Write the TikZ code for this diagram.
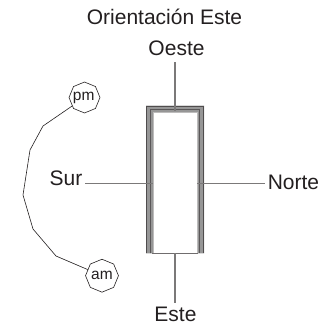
\documentclass[tikz,border=0pt]{standalone}
\usepackage{fontspec}
\setmainfont{Liberation Sans}
\usetikzlibrary{shapes.geometric}
\definecolor{ink}{RGB}{35,31,32}
\definecolor{band}{RGB}{150,150,150}
\tikzset{
  px/.style={x=1pt,y=-1pt},
  lab/.style={font=\fontsize{21}{21}\selectfont,text=ink,inner sep=0pt,anchor=base},
  sun/.style={regular polygon,regular polygon sides=8,shape border rotate=22.5,draw=ink,line width=0.6pt,minimum size=31pt,inner sep=0pt,font=\fontsize{15.5}{15.5}\selectfont,text=ink},
  arm/.style={draw=ink!60,line width=1.1pt},
  pathl/.style={draw=ink,line width=0.6pt}
}
\begin{document}
\begin{tikzpicture}[px]
\useasboundingbox (0,0) rectangle (324,327);
\fill[white] (0,0) rectangle (324,327);
% labels
\node[lab] (title) at (164.5,24) {Orientación Este};
\node[lab] (oeste) at (176.5,55.5) {Oeste};
\node[lab] (este) at (175.5,321.5) {Este};
\node[lab] (sur) at (66,185) {Sur};
\node[lab] (norte) at (293.5,189) {Norte};
% window walls
\fill[band] (146,253.3) -- (146,105.7) -- (204,105.7) -- (204,253.3) -- (197.3,253.3) -- (197.3,112.7) -- (153.3,112.7) -- (153.3,253.3) -- cycle;
\draw[draw=ink!80,line width=1.3pt] (146.7,253.3) -- (146.7,106.4) -- (203.3,106.4) -- (203.3,253.3);
\draw[draw=ink!75,line width=0.9pt] (150.3,253.3) -- (150.3,109.8) -- (199.9,109.8) -- (199.9,253.3);
\draw[draw=ink!30,line width=0.8pt] (153.3,253.3) -- (153.3,112.7) -- (197.3,112.7) -- (197.3,253.3);
\draw[draw=ink!65,line width=1pt] (152,253) -- (198,253);
% connectors
\coordinate (ntop) at (175,62);
\coordinate (nbot) at (175,303);
\coordinate (nl) at (85,183.3);
\coordinate (nr) at (265,183.3);
\coordinate (wt) at (175,111);
\coordinate (wb) at (175,253);
\coordinate (wl) at (153,183.3);
\coordinate (wr) at (197,183.3);
\draw[arm] (ntop) -- (wt);
\draw[arm] (wb) -- (nbot);
\draw[arm] (nl) -- (wl);
\draw[arm] (wr) -- (nr);
% sun nodes and path
\node[sun] (pm) at (84.5,97.5) {\hspace{-1.5pt}pm};
\node[sun] (am) at (102,275.7) {am};
\draw[pathl] (pm) -- (43,126) -- (30,150) -- (23,195) -- (33,229) -- (56,256) -- (am);
\end{tikzpicture}
\end{document}
